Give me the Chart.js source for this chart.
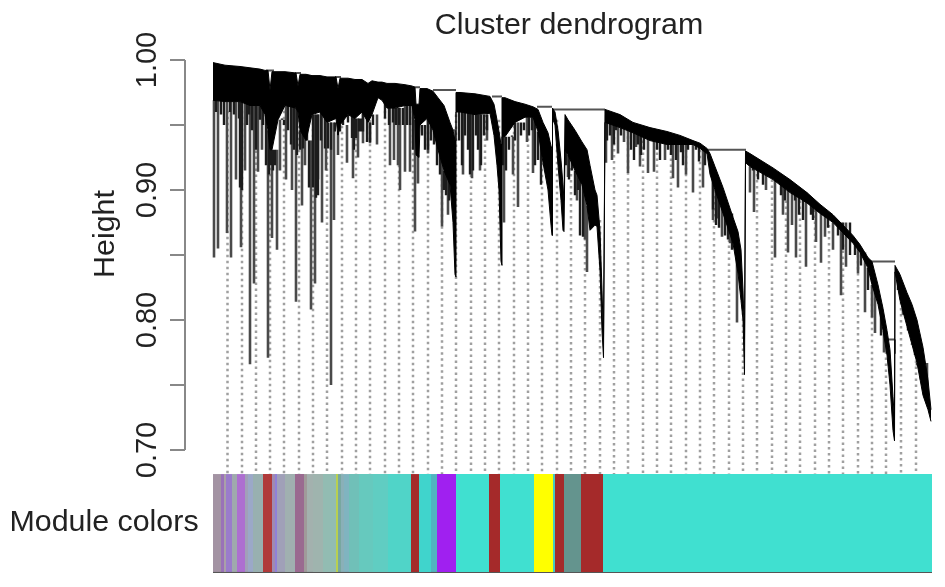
<!DOCTYPE html>
<html>
<head>
<meta charset="utf-8">
<title>Cluster dendrogram</title>
<script src="https://cdn.jsdelivr.net/npm/chart.js@4"></script>
<style>
  html, body { margin: 0; padding: 0; background: #fff; overflow: hidden; }
  canvas { display: block; filter: blur(0.6px); }
</style>
</head>
<body>
<canvas id="dendro" width="945" height="587"></canvas>
<script>
// --- DATA (x = leaf position along the tree, y = height) ---
const yTicks = [0.70, 0.75, 0.80, 0.85, 0.90, 0.95, 1.00];
const yLabels = ['0.70', '', '0.80', '', '0.90', '', '1.00'];

// solid black band of the tree, upper and lower edge
const envX = [0,12,27,37,47,52,55,57,59,65,72,83,85,87,93,99,107,114,123,125,127,135,142,149,155,159,165,169,174,182,192,199,202,203,206,207,214,220,225,231,237,240,242,243,243,247,262,277,281,284,286,288,289,289,292,302,312,320,325,330,335,338,339,339.5,342,345,348,350,351,352,355,362,369,374,377,382,384,387,389,390.5,392,407,420,437,454,467,480,487,494,497,502,510,520,525,528,530,531.5,532.5,537,560,577,594,607,620,640,647,655,659,665,670,674,677,680,681.5,682,687,694,699,704,710,715,718];
const envTop = [.998,.996,.995,.994,.993,.992,.992,.977,.991,.991,.991,.990,.980,.989,.989,.988,.988,.987,.987,.978,.986,.986,.985,.985,.982,.984,.983,.983,.982,.982,.981,.980,.979,.966,.966,.978,.978,.976,.971,.965,.952,.946,.938,.938,.975,.975,.974,.972,.966,.954,.945,.935,.935,.971,.971,.968,.966,.964,.962,.952,.944,.934,.931,.963,.960,.946,.923,.904,.892,.958,.954,.946,.937,.931,.919,.900,.896,.869,.823,.785,.962,.958,.952,.948,.945,.942,.938,.936,.932,.928,.918,.902,.879,.868,.854,.823,.785,.930,.928,.917,.908,.898,.889,.881,.865,.858,.848,.845,.827,.809,.792,.777,.741,.723,.842,.835,.821,.812,.800,.779,.754,.731];
const envBottom = [.969,.968,.968,.965,.965,.958,.946,.931,.931,.954,.965,.963,.960,.946,.938,.958,.960,.952,.955,.942,.950,.958,.955,.960,.952,.958,.971,.969,.963,.963,.965,.965,.954,.927,.925,.950,.955,.946,.931,.915,.904,.875,.835,.833,.960,.960,.958,.959,.942,.919,.900,.845,.842,.941,.941,.952,.956,.956,.945,.921,.900,.873,.865,.955,.950,.919,.892,.869,.868,.931,.927,.915,.904,.888,.869,.873,.872,.838,.792,.771,.952,.948,.944,.938,.935,.935,.935,.932,.928,.912,.900,.882,.859,.836,.815,.800,.758,.921,.918,.908,.898,.890,.882,.875,.859,.852,.840,.827,.812,.792,.773,.750,.715,.707,.837,.815,.795,.781,.767,.742,.731,.722];

// single long branches hanging under the band
const spikeX = [1,5,14,18,23,28,32,37,41,45,49,55,59,64,67,73,79,83,89,92,98,102,105,109,113,118,121,125,134,140,145,150,157,164,177,181,185,187,192,197,202,205,215,229,235,250,259,267,274,291,300,305,314,320,355,364,372,374,384,393,399,405,411,415,423,427,435,441,452,460,465,473,480,490,500,504,509,517,524,537,541,553,562,570,575,579,583,593,603,608,612,620,628,633,645,652,659,662,671,690,699,704,714];
const spikeLow = [.848,.855,.867,.848,.908,.856,.915,.766,.828,.914,.931,.771,.863,.854,.915,.908,.900,.814,.888,.919,.808,.828,.908,.875,.915,.750,.877,.927,.921,.909,.925,.936,.936,.935,.919,.923,.919,.900,.914,.914,.868,.905,.928,.872,.881,.912,.909,.915,.938,.875,.912,.887,.937,.913,.910,.892,.862,.837,.872,.921,.923,.928,.937,.913,.933,.918,.913,.914,.923,.909,.902,.912,.898,.902,.877,.878,.864,.859,.798,.898,.883,.900,.848,.881,.852,.873,.848,.841,.860,.844,.864,.854,.819,.841,.836,.806,.802,.790,.775,.804,.782,.765,.767];

// dense short branches just below the band
const shortX = [3,8,11,17,21,26,27,29,34,36,39,43,47,50,53,56,58,60,62,64,69,71,75,78,81,84,87,90,94,96,100,103,105,108,112,115,118,122,125,127,130,135,139,141,143,146,148,150,154,157,160,172,176,180,183,186,190,194,197,200,209,212,215,218,221,224,227,231,233,236,246,249,252,255,257,260,263,265,268,271,274,290,293,296,299,302,308,311,316,319,322,325,328,353,356,359,362,365,367,370,394,397,401,403,408,418,421,425,428,431,444,447,455,458,463,468,470,475,483,486,492,500,503,506,512,515,519,540,545,550,568,572,582,586,590,598,600,615,625,630,637,642,648,655,668,676,685,695,702,708,712];
const shortLow = [.960,.958,.950,.960,.958,.955,.902,.900,.950,.958,.946,.931,.954,.950,.919,.912,.919,.915,.919,.931,.955,.950,.946,.935,.931,.927,.931,.932,.954,.902,.902,.894,.896,.938,.932,.932,.931,.945,.945,.945,.955,.952,.940,.931,.940,.945,.945,.945,.937,.937,.950,.955,.950,.952,.950,.950,.950,.950,.950,.931,.942,.931,.931,.938,.935,.919,.912,.900,.896,.892,.938,.919,.942,.931,.912,.915,.942,.931,.919,.942,.946,.919,.915,.931,.942,.938,.942,.946,.942,.946,.919,.923,.904,.919,.908,.915,.896,.900,.865,.864,.938,.942,.935,.946,.942,.931,.923,.935,.927,.931,.931,.923,.931,.927,.923,.929,.919,.931,.931,.922,.919,.885,.873,.871,.865,.862,.854,.915,.908,.904,.896,.892,.892,.881,.877,.881,.877,.871,.865,.854,.850,.850,.842,.823,.788,.765,.823,.792,.773,.754,.750];

// horizontal merges joining the clusters
const mergeStart = [53,82,122,200,220,237,279,324,339,352,494,655,673];
const mergeEnd = [61,88,128,207,243,242,289,339,352,392,533,682,682];
const mergeHeight = [.992,.990,.987,.979,.977,.946,.972,.964,.962,.962,.931,.845,.785];

// short drops below the merges
const dropX = [237,242,682,673];
const dropHigh = [.946,.946,.785,.785];
const dropLow = [.938,.938,.774,.775];

// dotted guide lines down to the colour row
const guideX = [14.5,29,43,57,71,86,100,114,129,143,157,172,186,200,215,229,243,258,272,286,301,315,329,344,358,372,387,401,415,430,444,458,473,487,501,516,530,544,559,573,587,602,616,630,645,659,673,688,703];
const guideTop = [.961,.961,.958,.954,.961,.954,.961,.958,.954,.954,.954,.961,.961,.961,.954,.946,.958,.958,.958,.954,.954,.958,.921,.954,.917,.900,.877,.950,.946,.938,.938,.938,.931,.931,.900,.862,.815,.917,.908,.892,.892,.885,.873,.858,.850,.831,.785,.823,.792];

// module colour row
const stripStart = [0,8,11,13,19,24,32,35,40,50,59,62,64,72,82,91,94,100,110,123,125,128,131,136,146,160,175,198,206,218,224,243,276,287,321,340,342,351,368,390];
const stripEnd = [8,11,13,19,24,32,35,40,50,59,62,64,72,82,91,94,100,110,123,125,128,131,136,146,160,175,198,206,218,224,243,276,287,321,340,342,351,368,390,719];
const stripColor = ['#a393a3','#9a72b8','#a9a0a8','#9a7ccb','#9fa9ad','#ad6fd0','#a1a0b8','#9ba8c8','#98b0b0','#b03a3a','#a08ab0','#9080d8','#a0a0b8','#a0b0b0','#9a6a90','#a09a9a','#a3b1ae','#9fb4ae','#92bcb2','#b8d050','#78a8a0','#8ab0b8','#80b4c0','#70c0b8','#66c9be','#60cdc2','#50d4c8','#a52a2a','#40d4cc','#50b4c0','#a020f0','#40e0d0','#a52a2a','#40e0d0','#ffff00','#48c8c0','#a52a2a','#64948e','#a52a2a','#40e0d0'];
const stripHigh = 0.6815;
const stripLow = 0.6062;

// --- DATASETS ---
const line = (points, extra) => Object.assign({
    type: 'scatter',
    data: points,
    showLine: true,
    pointRadius: 0,
    borderWidth: 0,
    spanGaps: false
}, extra);

const pairs = (xs, lows, highs) => {
    const pts = [];
    xs.forEach((x, i) => {
        pts.push({ x: x, y: highs[i] }, { x: x, y: lows[i] }, { x: x, y: null });
    });
    return pts;
};

// a branch starts at the lower edge of the band above it
const bandBottomAt = (x) => {
    let i = 0;
    while (i < envX.length - 1 && envX[i + 1] <= x) i++;
    return envBottom[i];
};

const mergePts = [];
mergeStart.forEach((x, i) => {
    mergePts.push({ x: x, y: mergeHeight[i] }, { x: mergeEnd[i], y: mergeHeight[i] }, { x: x, y: null });
});

const datasets = [];

datasets.push(line(envX.map((x, i) => ({ x: x, y: envTop[i] })), {
    label: 'band top', borderColor: '#000', backgroundColor: '#000', borderWidth: 1, fill: '+1'
}));
datasets.push(line(envX.map((x, i) => ({ x: x, y: envBottom[i] })), {
    label: 'band bottom', borderColor: '#000', borderWidth: 1
}));
datasets.push(line(mergePts, { label: 'merges', borderColor: '#555', borderWidth: 2 }));
datasets.push(line(pairs(dropX, dropLow, dropHigh), { label: 'drops', borderColor: '#666', borderWidth: 2 }));
datasets.push(line(pairs(shortX, shortLow, shortX.map(bandBottomAt)), {
    label: 'short branches', borderColor: '#1c1c1c', borderWidth: 2.4
}));
datasets.push(line(pairs(spikeX, spikeLow, spikeX.map(bandBottomAt)), {
    label: 'branches', borderColor: '#4a4a4a', borderWidth: 2.6
}));

// colour row sits on top of the guide ends
stripStart.forEach((x, i) => {
    datasets.push(line([{ x: x, y: stripHigh }, { x: stripEnd[i], y: stripHigh }], {
        label: 'module ' + i, backgroundColor: stripColor[i], fill: { value: stripLow }
    }));
});
datasets.push(line([{ x: 0, y: stripLow }, { x: 719, y: stripLow }], {
    label: 'row edge', borderColor: '#555', borderWidth: 2
}));

datasets.push(line(pairs(guideX, guideTop.map(() => stripHigh), guideTop), {
    label: 'guides', borderColor: '#a0a0a0', borderWidth: 2.5, borderDash: [2.5, 3.5]
}));

// y axis line only runs between the first and last tick
datasets.push(line([{ x: -28, y: yTicks[0] }, { x: -28, y: yTicks[yTicks.length - 1] }], {
    label: 'axis', borderColor: '#888', borderWidth: 2, clip: false
}));

// --- TEXT ---
const textPlugin = {
    id: 'chartTexts',
    afterDraw(chart) {
        const ctx = chart.ctx;
        ctx.save();
        ctx.fillStyle = '#222';
        ctx.font = '30.4px "Liberation Sans"';
        ctx.textAlign = 'center';
        ctx.textBaseline = 'middle';
        ctx.fillText('Cluster dendrogram', 569, 26);
        ctx.fillText('Module colors', 104, 523);
        ctx.translate(106, 234);
        ctx.rotate(-Math.PI / 2);
        ctx.fillText('Height', 0, 0);
        ctx.restore();
    }
};

new Chart(document.getElementById('dendro'), {
    data: { datasets: datasets },
    plugins: [textPlugin],
    options: {
        responsive: false,
        animation: false,
        layout: { padding: { top: 50, bottom: 7, left: 0, right: 0 } },
        plugins: {
            legend: { display: false },
            tooltip: { enabled: false }
        },
        scales: {
            x: { type: 'linear', min: -28, max: 732, display: false },
            y: {
                type: 'linear',
                min: 0.6,
                max: 1.00769,
                afterFit: (scale) => {
                    scale.width = 185;
                    scale.paddingTop = 0;
                    scale.paddingBottom = 0;
                },
                afterBuildTicks: (scale) => { scale.ticks = yTicks.map(v => ({ value: v })); },
                border: { display: false },
                grid: { drawOnChartArea: false, drawTicks: true, tickLength: 15, color: '#888', lineWidth: 2 },
                ticks: {
                    autoSkip: false,
                    minRotation: 90,
                    maxRotation: 90,
                    crossAlign: 'center',
                    padding: -6,
                    color: '#222',
                    font: { family: '"Liberation Sans"', size: 29 },
                    callback: (value) => yLabels[yTicks.findIndex(t => Math.abs(t - value) < 1e-6)]
                }
            }
        }
    }
});
</script>
</body>
</html>
